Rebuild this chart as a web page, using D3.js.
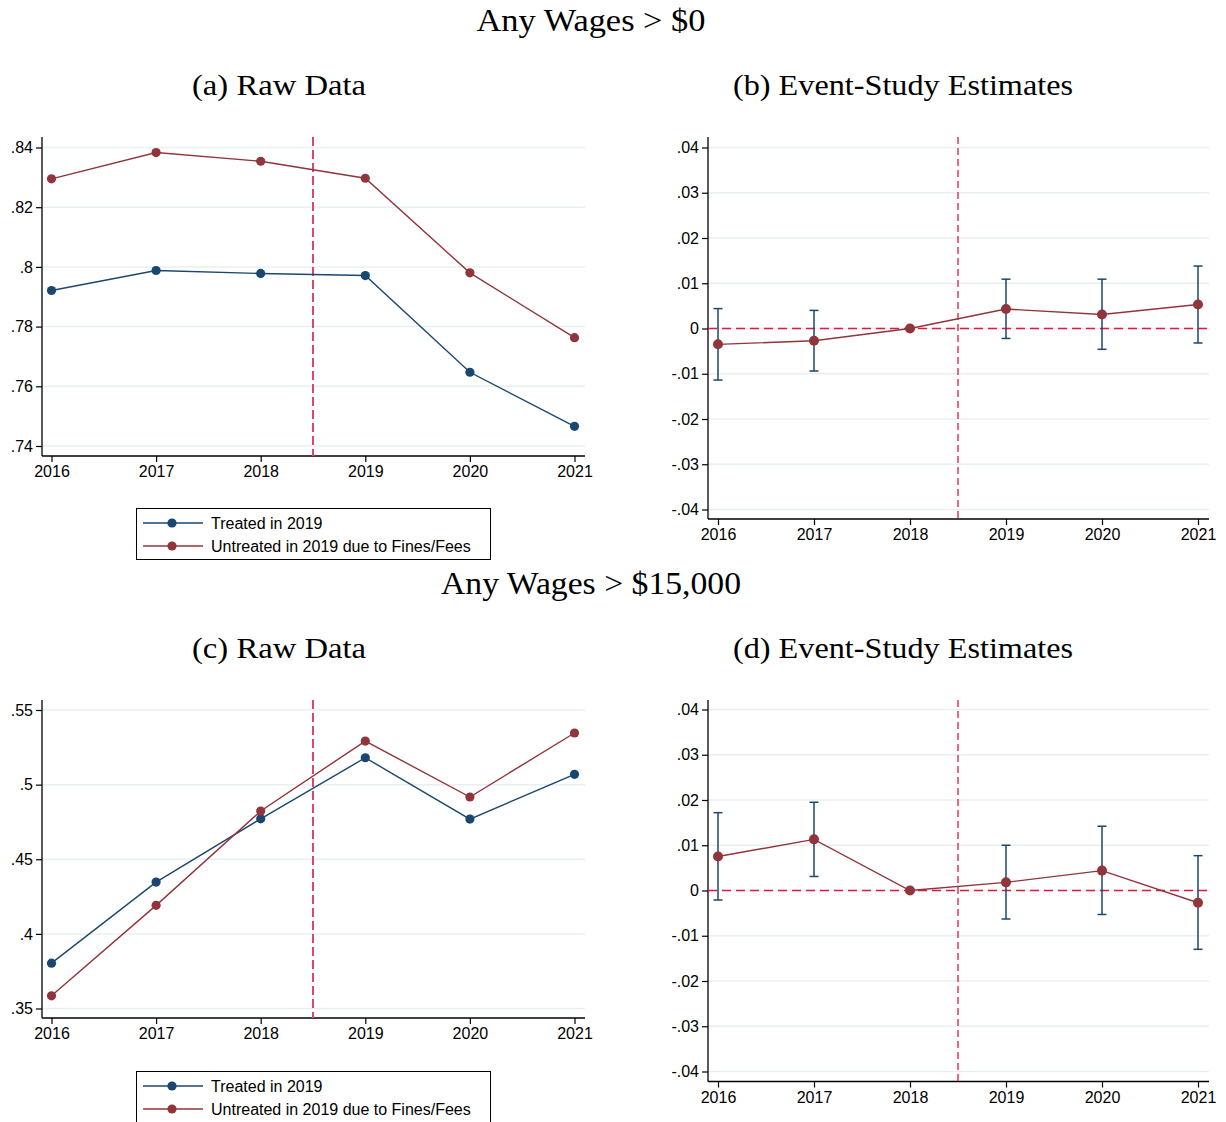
<!DOCTYPE html>
<html>
<head>
<meta charset="utf-8">
<script src="https://cdn.jsdelivr.net/npm/d3@7"></script>
<style>
  body { margin: 0; background: #fff; }
  svg { display: block; }
  .tick text { font-family: "Liberation Sans", Arial, sans-serif; font-size: 16px; fill: #000; }
  .ttl { font-family: "Liberation Serif", "DejaVu Serif", serif; fill: #000; }
  .leg { font-family: "Liberation Sans", Arial, sans-serif; font-size: 16px; fill: #000; }
</style>
</head>
<body>
<svg id="chart" width="1226" height="1122"></svg>
<script>
const years = [2016, 2017, 2018, 2019, 2020, 2021];

// panel (a) Any wages > $0, raw means
const rawTreated0 = [0.7921, 0.7988, 0.7978, 0.7971, 0.7647, 0.7466];
const rawUntreated0 = [0.8295, 0.8383, 0.8354, 0.8297, 0.7980, 0.7763];
const rawTicks0 = [0.74, 0.76, 0.78, 0.8, 0.82, 0.84];

// panel (b) event study, any wages > $0
const est0 = [-0.0035, -0.0027, 0, 0.0043, 0.0031, 0.0053];
const ciLow0 = [-0.0114, -0.0094, null, -0.0022, -0.0046, -0.0032];
const ciHigh0 = [0.0044, 0.0040, null, 0.0109, 0.0109, 0.0138];

// panel (c) Any wages > $15,000, raw means
const rawTreated15 = [0.3804, 0.4347, 0.4771, 0.5180, 0.4769, 0.5069];
const rawUntreated15 = [0.3585, 0.4191, 0.4823, 0.5292, 0.4917, 0.5346];
const rawTicks15 = [0.35, 0.4, 0.45, 0.5, 0.55];

// panel (d) event study, any wages > $15,000
const est15 = [0.0075, 0.0113, 0, 0.0018, 0.0044, -0.0027];
const ciLow15 = [-0.0021, 0.0031, null, -0.0063, -0.0053, -0.0130];
const ciHigh15 = [0.0172, 0.0195, null, 0.0100, 0.0142, 0.0077];

const esTicks = [-0.04, -0.03, -0.02, -0.01, 0, 0.01, 0.02, 0.03, 0.04];

const seriesNames = ["Treated in 2019", "Untreated in 2019 due to Fines/Fees"];

const blue = "#1a476f", red = "#90353b", grid = "#e8eff1";

const svg = d3.select("#chart");

function fmt(d) {
  if (d === 0) return "0";
  let s = String(+d.toFixed(3));
  return s.replace("0.", ".");
}

function axes(box, x, y, yTicks) {
  const g = svg.append("g");
  // grid
  g.selectAll(".grid").data(yTicks).enter().append("line")
    .attr("x1", box.left).attr("x2", box.right)
    .attr("y1", d => y(d)).attr("y2", d => y(d))
    .attr("stroke", grid).attr("stroke-width", 1.5);
  g.append("g")
    .attr("transform", "translate(" + box.left + ",0)")
    .call(d3.axisLeft(y).tickValues(yTicks).tickFormat(fmt).tickSize(6).tickPadding(3))
    .call(a => a.select(".domain").attr("d", "M0," + box.top + "V" + box.bottom).attr("stroke-width", 1.3))
    .call(a => a.selectAll(".tick line").attr("stroke-width", 1.2));
  g.append("g")
    .attr("transform", "translate(0," + box.bottom + ")")
    .call(d3.axisBottom(x).tickValues(years).tickFormat(d3.format("d")).tickSize(6).tickPadding(4))
    .call(a => a.select(".domain").attr("d", "M" + box.left + ",0H" + box.right).attr("stroke-width", 1.3))
    .call(a => a.selectAll(".tick line").attr("stroke-width", 1.2));
}

function rawPanel(box, yDom, yRange, yTicks, treated, untreated) {
  const x = d3.scaleLinear().domain([2016, 2021]).range([51.5, 574.5]);
  const y = d3.scaleLinear().domain(yDom).range(yRange);
  axes(box, x, y, yTicks);
  svg.append("line")
    .attr("x1", x(2018.5)).attr("x2", x(2018.5))
    .attr("y1", box.top).attr("y2", box.bottom)
    .attr("stroke", "#d94670").attr("stroke-width", 2).attr("stroke-dasharray", "9,4");
  [[treated, blue], [untreated, red]].forEach(([vals, col]) => {
    const pts = years.map((yr, i) => [x(yr), y(vals[i])]);
    svg.append("path").attr("d", d3.line()(pts))
      .attr("fill", "none").attr("stroke", col).attr("stroke-width", 1.4);
    svg.append("g").selectAll("circle").data(pts).enter().append("circle")
      .attr("cx", d => d[0]).attr("cy", d => d[1]).attr("r", 4.6).attr("fill", col);
  });
}

function esPanel(box, yRange, est, lo, hi) {
  const x = d3.scaleLinear().domain([2016, 2021]).range([718, 1198]);
  const y = d3.scaleLinear().domain([-0.04, 0.04]).range(yRange);
  axes(box, x, y, esTicks);
  svg.append("line")
    .attr("x1", x(2018.5)).attr("x2", x(2018.5))
    .attr("y1", box.top).attr("y2", box.bottom)
    .attr("stroke", "#e3173f").attr("stroke-width", 1.3).attr("stroke-dasharray", "7,4");
  svg.append("line")
    .attr("x1", box.left).attr("x2", box.right)
    .attr("y1", y(0)).attr("y2", y(0))
    .attr("stroke", "#e3173f").attr("stroke-width", 1.6).attr("stroke-dasharray", "9,5");
  const bars = svg.append("g");
  years.forEach((yr, i) => {
    if (lo[i] === null) return;
    const cx = x(yr);
    bars.append("line").attr("x1", cx).attr("x2", cx).attr("y1", y(lo[i])).attr("y2", y(hi[i]));
    bars.append("line").attr("x1", cx - 4.5).attr("x2", cx + 4.5).attr("y1", y(lo[i])).attr("y2", y(lo[i]));
    bars.append("line").attr("x1", cx - 4.5).attr("x2", cx + 4.5).attr("y1", y(hi[i])).attr("y2", y(hi[i]));
  });
  bars.selectAll("line").attr("stroke", blue).attr("stroke-width", 1.5);
  const pts = years.map((yr, i) => [x(yr), y(est[i])]);
  svg.append("path").attr("d", d3.line()(pts))
    .attr("fill", "none").attr("stroke", red).attr("stroke-width", 1.4);
  svg.append("g").selectAll("circle").data(pts).enter().append("circle")
    .attr("cx", d => d[0]).attr("cy", d => d[1]).attr("r", 5).attr("fill", red);
}

function legend(top) {
  const g = svg.append("g");
  g.append("rect").attr("x", 136.5).attr("y", top + 0.5).attr("width", 354).attr("height", 51)
    .attr("fill", "#fff").attr("stroke", "#000").attr("stroke-width", 1);
  [blue, red].forEach((col, i) => {
    const yy = top + 15 + i * 23;
    g.append("line").attr("x1", 143).attr("x2", 203).attr("y1", yy).attr("y2", yy)
      .attr("stroke", col).attr("stroke-width", 1.4);
    g.append("circle").attr("cx", 172).attr("cy", yy).attr("r", 4.6).attr("fill", col);
    g.append("text").attr("class", "leg").attr("x", 211).attr("y", yy + 6).text(seriesNames[i]);
  });
}

function title(txt, x, y, size, len) {
  svg.append("text").attr("class", "ttl").attr("x", x).attr("y", y)
    .attr("text-anchor", "middle").attr("font-size", size)
    .attr("textLength", len).attr("lengthAdjust", "spacingAndGlyphs").text(txt);
}

title("Any Wages > $0", 591, 31, 32, 229);
title("(a) Raw Data", 279, 95, 29, 174);
title("(b) Event-Study Estimates", 903, 95, 29, 340);
title("Any Wages > $15,000", 591, 594, 32, 300);
title("(c) Raw Data", 279, 658, 29, 174);
title("(d) Event-Study Estimates", 903, 658, 29, 340);

rawPanel({ left: 42, right: 585, top: 137, bottom: 456 }, [0.74, 0.84], [446, 147.5], rawTicks0, rawTreated0, rawUntreated0);
esPanel({ left: 708, right: 1209, top: 137, bottom: 519 }, [509.5, 147.5], est0, ciLow0, ciHigh0);
rawPanel({ left: 42, right: 585, top: 700, bottom: 1018 }, [0.35, 0.55], [1008.5, 710], rawTicks15, rawTreated15, rawUntreated15);
esPanel({ left: 708, right: 1209, top: 700, bottom: 1081.5 }, [1071.5, 709.5], est15, ciLow15, ciHigh15);

legend(508);
legend(1071);
</script>
</body>
</html>
